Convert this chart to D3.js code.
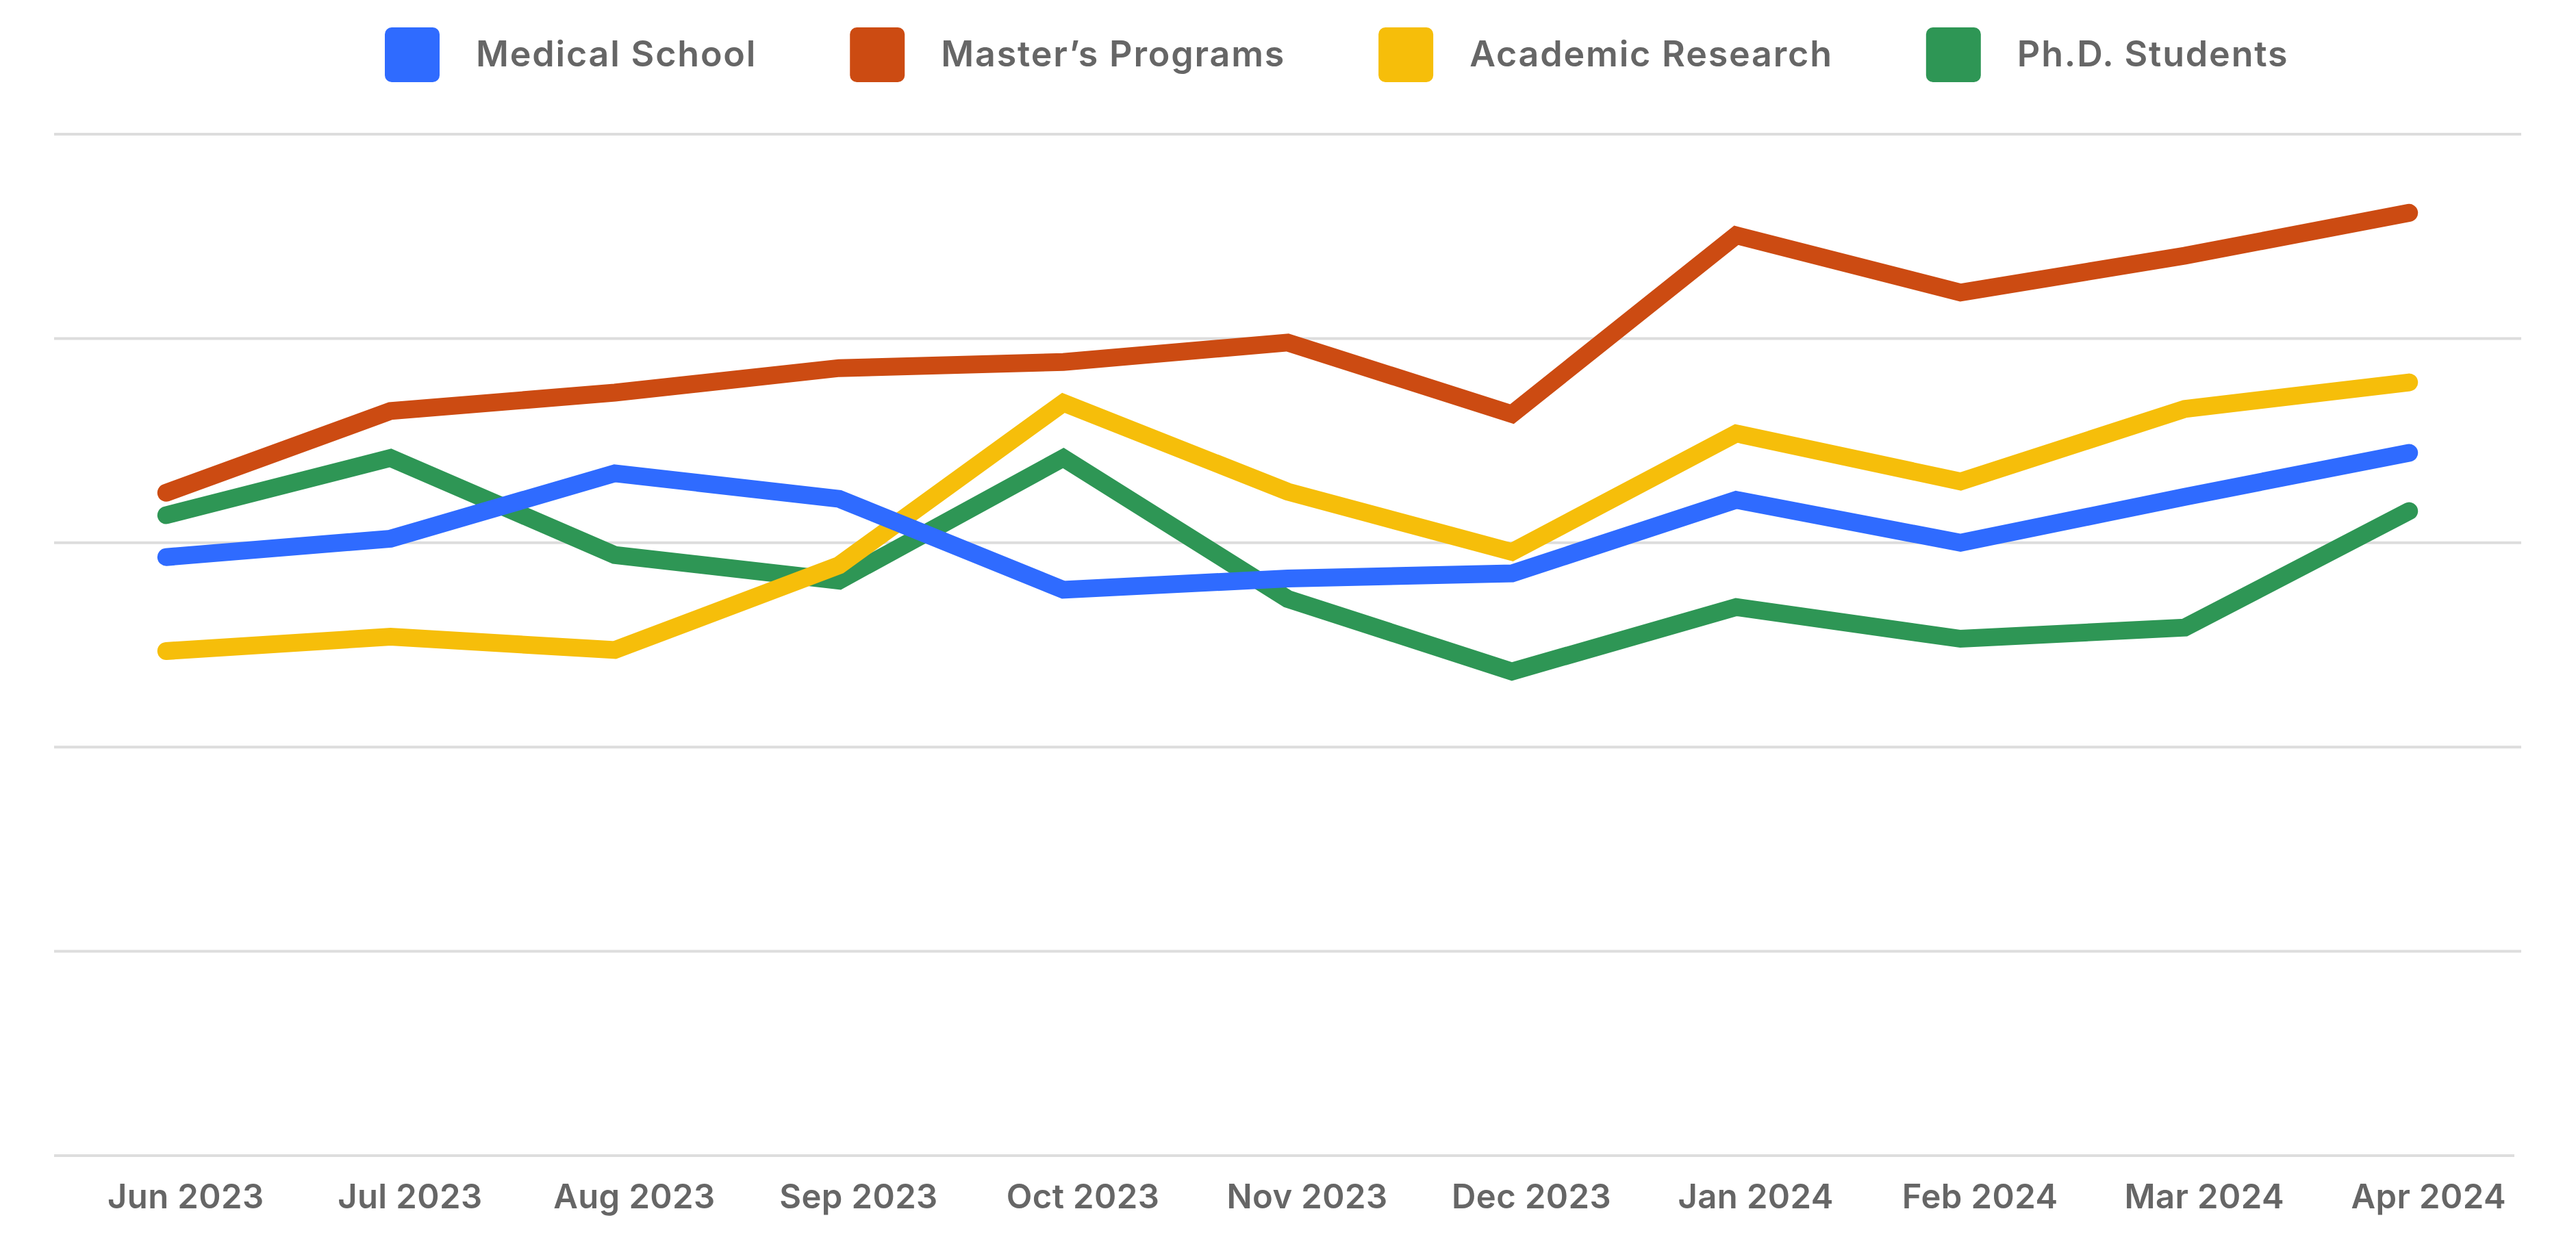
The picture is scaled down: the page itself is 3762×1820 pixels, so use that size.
<!DOCTYPE html>
<html>
<head>
<meta charset="utf-8">
<script src="https://cdn.jsdelivr.net/npm/d3@7"></script>
<style>
  html, body { margin: 0; padding: 0; background: #ffffff; }
  svg { display: block; }
</style>
</head>
<body>
<svg id="chart" width="3762" height="1820"></svg>
<script>
// ---- data ----
const months = ["Jun 2023","Jul 2023","Aug 2023","Sep 2023","Oct 2023","Nov 2023","Dec 2023","Jan 2024","Feb 2024","Mar 2024","Apr 2024"];
const seriesNames = ["Medical School","Master\u2019s Programs","Academic Research","Ph.D. Students"];
const medicalSchool     = [58.6, 60.4, 66.8, 64.3, 55.4, 56.5, 57.0, 64.2, 60.0, 64.5, 68.8];
const mastersPrograms   = [64.9, 72.9, 74.7, 77.1, 77.7, 79.6, 72.6, 90.1, 84.5, 88.1, 92.3];
const academicResearch  = [49.4, 50.8, 49.5, 57.8, 73.7, 65.0, 59.1, 70.7, 66.0, 73.1, 75.7];
const phdStudents       = [62.7, 68.3, 58.8, 56.3, 68.3, 54.5, 47.4, 53.7, 50.6, 51.7, 63.1];
const yTicks = [0, 20, 40, 60, 80, 100];
const colors = ["#2f6bff", "#cc4b12", "#f6be0a", "#2e9655"];

const seriesValues = [medicalSchool, mastersPrograms, academicResearch, phdStudents];
const series = seriesNames.map((name, i) => ({
  name, color: colors[i],
  values: months.map((m, j) => ({ month: m, value: seriesValues[i][j] }))
}));

// ---- layout ----
const svg = d3.select("#chart");
const plotLeft = 79, plotRight = 3682, plotTop = 196, plotBottom = 1688;

const x = d3.scalePoint().domain(months).range([plotLeft, plotRight]).padding(0.5);
const y = d3.scaleLinear().domain([0, 100]).range([plotBottom, plotTop]);

const fontFamily = "Inter, 'Liberation Sans', Arial, sans-serif";

// gridlines
svg.append("g")
  .selectAll("line")
  .data(yTicks)
  .join("line")
  .attr("x1", plotLeft)
  .attr("x2", d => d === 0 ? plotRight - 10 : plotRight)
  .attr("y1", d => y(d))
  .attr("y2", d => y(d))
  .attr("stroke", "#dddddd")
  .attr("stroke-width", 4);

// x axis labels
const xAxis = d3.axisBottom(x).tickSize(0).tickPadding(0);
const gx = svg.append("g")
  .attr("transform", `translate(0, ${plotBottom})`)
  .call(xAxis);
gx.select(".domain").remove();
gx.selectAll("text")
  .attr("y", 77)
  .attr("dy", 0)
  .attr("dx", 28)
  .attr("fill", "#666666")
  .style("font-family", fontFamily)
  .style("font-weight", 600)
  .style("font-size", "49px")
  .style("letter-spacing", "0.4px");

// lines (drawn in reverse so Medical School is on top)
const line = d3.line().x(d => x(d.month)).y(d => y(d.value));
svg.append("g")
  .selectAll("path")
  .data(series.slice().reverse())
  .join("path")
  .attr("d", d => line(d.values))
  .attr("fill", "none")
  .attr("stroke", d => d.color)
  .attr("stroke-width", 26)
  .attr("stroke-linecap", "round")
  .attr("stroke-linejoin", "miter");

// legend
const legend = svg.append("g");
let cursor = 562;
series.forEach(s => {
  const g = legend.append("g");
  g.append("rect")
    .attr("x", cursor).attr("y", 40)
    .attr("width", 80).attr("height", 80)
    .attr("rx", 10).attr("ry", 10)
    .attr("fill", s.color);
  const t = g.append("text")
    .attr("x", cursor + 80 + 53)
    .attr("y", 97)
    .attr("fill", "#666666")
    .style("font-family", fontFamily)
    .style("font-weight", 600)
    .style("font-size", "52px")
    .style("letter-spacing", "1.8px")
    .text(s.name);
  const w = t.node().getComputedTextLength();
  cursor = cursor + 80 + 53 + w + 136;
});
</script>
</body>
</html>
